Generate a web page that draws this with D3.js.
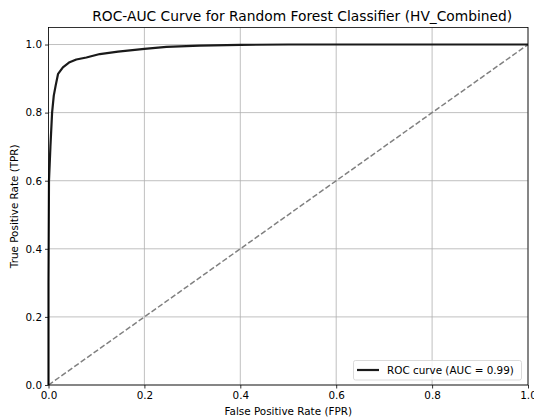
<!DOCTYPE html>
<html><head><meta charset="utf-8">
<script src="https://cdn.jsdelivr.net/npm/d3@7"></script>
<style>body{margin:0;background:#fff}svg{display:block;font-family:"DejaVu Sans",sans-serif}</style>
</head><body>
<svg id="c" width="534" height="417"></svg>
<script>
const fpr = [0, 0, 0.001, 0.004, 0.0075, 0.011, 0.015, 0.02, 0.03, 0.044, 0.058, 0.079, 0.107, 0.145, 0.2, 0.246, 0.315, 0.4, 0.5, 0.6, 0.8, 1.0];
const tpr = [0, 0.3, 0.6, 0.7, 0.8, 0.85, 0.88, 0.914, 0.933, 0.948, 0.956, 0.962, 0.972, 0.979, 0.987, 0.993, 0.997, 0.999, 1.0, 1.0, 1.0, 1.0];
const diagX = [0, 1];
const diagY = [0, 1];
const xTicks = [0, 0.2, 0.4, 0.6, 0.8, 1.0];
const yTicks = [0, 0.2, 0.4, 0.6, 0.8, 1.0];
const title = "ROC-AUC Curve for Random Forest Classifier (HV_Combined)";
const xLabel = "False Positive Rate (FPR)";
const yLabel = "True Positive Rate (TPR)";
const legendLabel = "ROC curve (AUC = 0.99)";

const svg = d3.select("#c");
const L = 48.5, R = 528, T = 27.5, B = 385;
const x = d3.scaleLinear().domain([0, 1]).range([L, R]);
const y = d3.scaleLinear().domain([0, 1.05]).range([B, T]);

// grid
svg.append("g").selectAll("line").data(xTicks).join("line")
  .attr("x1", d => x(d)).attr("x2", d => x(d)).attr("y1", T).attr("y2", B)
  .attr("stroke", "#b0b0b0").attr("stroke-width", 0.8);
svg.append("g").selectAll("line").data(yTicks).join("line")
  .attr("x1", L).attr("x2", R).attr("y1", d => y(d)).attr("y2", d => y(d))
  .attr("stroke", "#b0b0b0").attr("stroke-width", 0.8);

// diagonal
svg.append("path").datum(diagX.map((d, i) => [d, diagY[i]]))
  .attr("d", d3.line().x(d => x(d[0])).y(d => y(d[1])))
  .attr("fill", "none").attr("stroke", "#808080").attr("stroke-width", 1.5)
  .attr("stroke-dasharray", "5.5,2.4");

// roc
svg.append("path").datum(fpr.map((d, i) => [d, tpr[i]]))
  .attr("d", d3.line().x(d => x(d[0])).y(d => y(d[1])))
  .attr("fill", "none").attr("stroke", "#1a1a1a").attr("stroke-width", 2.2)
  .attr("stroke-linejoin", "round");

// axes
const xa = svg.append("g").attr("transform", `translate(0,${B})`)
  .call(d3.axisBottom(x).tickValues(xTicks).tickFormat(d3.format(".1f")).tickSize(3.5).tickPadding(3));
const ya = svg.append("g").attr("transform", `translate(${L},0)`)
  .call(d3.axisLeft(y).tickValues(yTicks).tickFormat(d3.format(".1f")).tickSize(3.5).tickPadding(3));
[xa, ya].forEach(a => {
  a.select(".domain").remove();
  a.selectAll("text").attr("font-size", 10.4).attr("fill", "#000").attr("font-family", "DejaVu Sans");
  a.selectAll("line").attr("stroke", "#000").attr("stroke-width", 0.8);
});
svg.append("rect").attr("x", L).attr("y", T).attr("width", R - L).attr("height", B - T)
  .attr("fill", "none").attr("stroke", "#000").attr("stroke-width", 0.8);

// texts
svg.append("text").attr("x", (L + R) / 2 + 14).attr("y", 21).attr("text-anchor", "middle")
  .attr("font-size", 13.8).text(title);
svg.append("text").attr("x", (L + R) / 2).attr("y", 415).attr("text-anchor", "middle")
  .attr("font-size", 10.4).text(xLabel);
svg.append("text").attr("transform", `translate(18,${(T + B) / 2}) rotate(-90)`).attr("text-anchor", "middle")
  .attr("font-size", 10.4).text(yLabel);

// legend
const lg = svg.append("g");
lg.append("rect").attr("x", 353.5).attr("y", 360.5).attr("width", 168).attr("height", 19.5).attr("rx", 2)
  .attr("fill", "#fff").attr("fill-opacity", 0.8).attr("stroke", "#d0d0d0").attr("stroke-width", 0.8);
lg.append("line").attr("x1", 357).attr("x2", 379).attr("y1", 370).attr("y2", 370)
  .attr("stroke", "#1a1a1a").attr("stroke-width", 2.2);
lg.append("text").attr("x", 387).attr("y", 374).attr("font-size", 10.4).text(legendLabel);
</script>
</body></html>
